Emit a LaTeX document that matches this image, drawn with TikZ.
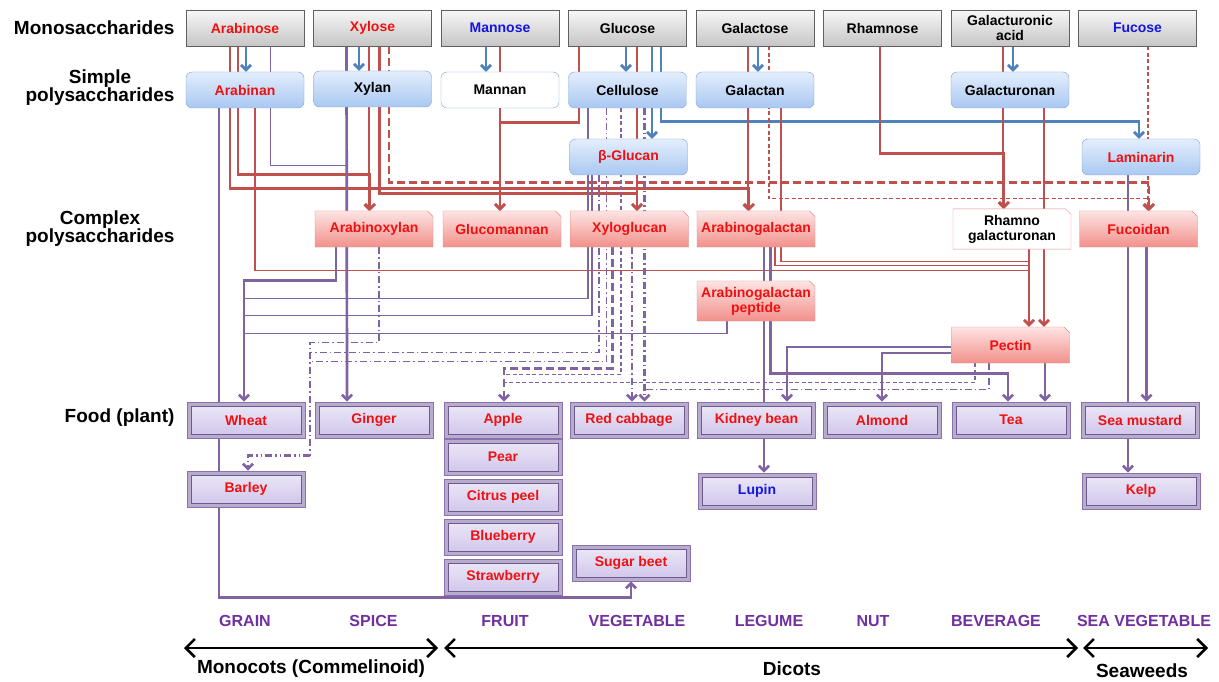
\documentclass[tikz,border=0pt]{standalone}
\usepackage{fontspec}
\setmainfont{Liberation Sans}
\usetikzlibrary{shapes.misc, arrows.meta, positioning, calc}
\definecolor{lineblue}{HTML}{4F81BD}
\definecolor{linered}{HTML}{C0504D}
\definecolor{linepurple}{HTML}{8064A2}
\definecolor{catpurple}{HTML}{7030A0}
\definecolor{txtred}{HTML}{EE1111}
\definecolor{txtblue}{HTML}{1515E0}
\definecolor{simpletop}{HTML}{E3EEFC}
\definecolor{simplebot}{HTML}{A9C8F2}
\definecolor{simpleedge}{HTML}{7EA1D0}
\definecolor{complextop}{HTML}{FDE4E3}
\definecolor{complexbot}{HTML}{F2908B}
\definecolor{complexedge}{HTML}{DD8E8B}
\definecolor{foodtop}{HTML}{EEEAF8}
\definecolor{foodbot}{HTML}{CEC3EA}
\definecolor{foodedge}{HTML}{8873AE}
\pgfdeclarelayer{background}
\pgfsetlayers{background,main}

\tikzset{
  box/.style={minimum width=118pt, minimum height=36pt, inner sep=2pt, align=center,
    font=\fontsize{14}{15}\selectfont\bfseries},
  monobox/.style={box, draw=gray!75!black, top color=gray!6, bottom color=gray!45},
  simplebox/.style={box, rounded corners=6pt, draw=simpleedge, top color=simpletop, bottom color=simplebot},
  complexbox/.style={box, inner xsep=0pt, chamfered rectangle, chamfered rectangle corners=north east,
    chamfered rectangle xsep=1.5pt, chamfered rectangle ysep=4pt, draw=complexedge,
    top color=complextop, bottom color=complexbot, text=txtred},
  foodbox/.style={box, draw=foodedge, line width=0.8pt, fill=foodedge!60, text=txtred,
    path picture={\shade[top color=foodtop, bottom color=foodbot, draw=foodedge!80!black, line width=0.5pt]
      ([shift={(4pt,4pt)}]path picture bounding box.south west) rectangle
      ([shift={(-4pt,-4pt)}]path picture bounding box.north east);}},
  rowlabel/.style={anchor=east, align=center, font=\fontsize{19}{18}\selectfont\bfseries},
  catlabel/.style={text=catpurple, font=\fontsize{16}{18}\selectfont\bfseries},
  grouplabel/.style={font=\fontsize{19}{21}\selectfont\bfseries},
  arr/.style={-{Straight Barb[length=5pt,width=10pt]}},
  bluethick/.style={draw=lineblue, line width=2.7pt},
  redthick/.style={draw=linered, line width=2.7pt},
  redthin/.style={draw=linered, line width=1.2pt},
  purplethick/.style={draw=linepurple, line width=2.7pt},
  purplethin/.style={draw=linepurple, line width=1.2pt},
  dashthick/.style={dash pattern=on 8pt off 4pt},
  dashthin/.style={dash pattern=on 4pt off 2.5pt},
  dashdot/.style={dash pattern=on 7pt off 3pt on 1.5pt off 3pt},
  dashdotdot/.style={dash pattern=on 7pt off 3pt on 1.5pt off 3pt on 1.5pt off 3pt},
  grouparrow/.style={line width=2.6pt, {Straight Barb[length=9pt,width=18pt]}-{Straight Barb[length=9pt,width=18pt]}}
}

\begin{document}
\begin{tikzpicture}[x=1pt, y=-1pt]
  \useasboundingbox (0,0) rectangle (1219,682);

  % row labels
  \node[rowlabel] (monolabel) at (178,28) {Monosaccharides};
  \node[rowlabel] (simplelabel) at (178,88) {Simple\\polysaccharides};
  \node[rowlabel] (complexlabel) at (178,229) {Complex\\polysaccharides};
  \node[rowlabel] (foodlabel) at (178,418) {Food (plant)};

  % monosaccharides
  \node[monobox, text=txtred] (arabinose) at (245,28) {Arabinose};
  \node[monobox, text=txtred] (xylose) at (372.5,28) {Xylose};
  \node[monobox, text=txtblue] (mannose) at (500,28) {Mannose};
  \node[monobox] (glucose) at (627.5,28) {Glucose};
  \node[monobox] (galactose) at (755,28) {Galactose};
  \node[monobox] (rhamnose) at (882.5,28) {Rhamnose};
  \node[monobox] (galacturonic) at (1010,28) {Galacturonic\\acid};
  \node[monobox, text=txtblue] (fucose) at (1137.5,28) {Fucose};

  % simple polysaccharides
  \node[simplebox, text=txtred] (arabinan) at (245,90) {Arabinan};
  \node[simplebox] (xylan) at (372.5,89) {Xylan};
  \node[simplebox, top color=white, bottom color=white] (mannan) at (500,90) {Mannan};
  \node[simplebox] (cellulose) at (627.5,90) {Cellulose};
  \node[simplebox] (galactan) at (755,90) {Galactan};
  \node[simplebox] (galacturonan) at (1010,90) {Galacturonan};
  \node[simplebox, text=txtred] (bglucan) at (628.5,157) {β-Glucan};
  \node[simplebox, text=txtred] (laminarin) at (1141,157) {Laminarin};

  % complex polysaccharides
  \node[complexbox] (arabinoxylan) at (374,229) {Arabinoxylan};
  \node[complexbox] (glucomannan) at (502,229) {Glucomannan};
  \node[complexbox] (xyloglucan) at (629.5,229) {Xyloglucan};
  \node[complexbox] (arabinogalactan) at (756,229) {Arabinogalactan};
  \node[complexbox, top color=white, bottom color=white, text=black] (rhamnogal) at (1012,229) {Rhamno\\galacturonan};
  \node[complexbox] (fucoidan) at (1138.5,229) {Fucoidan};
  \node[complexbox] (agp) at (756,301) {Arabinogalactan\\peptide};
  \node[complexbox] (pectin) at (1010.5,345) {Pectin};

  % food
  \node[foodbox] (wheat) at (246,420) {Wheat};
  \node[foodbox] (ginger) at (374,420) {Ginger};
  \node[foodbox] (apple) at (503,420) {Apple};
  \node[foodbox] (redcabbage) at (629,420) {Red cabbage};
  \node[foodbox] (kidneybean) at (756.5,420) {Kidney bean};
  \node[foodbox] (almond) at (882,420) {Almond};
  \node[foodbox] (tea) at (1011,420) {Tea};
  \node[foodbox] (seamustard) at (1140,420) {Sea mustard};
  \node[foodbox] (barley) at (246,489) {Barley};
  \node[foodbox] (pear) at (503,457) {Pear};
  \node[foodbox] (citrus) at (503,497) {Citrus peel};
  \node[foodbox] (blueberry) at (503,537) {Blueberry};
  \node[foodbox] (strawberry) at (503,577) {Strawberry};
  \node[foodbox] (sugarbeet) at (631,563) {Sugar beet};
  \node[foodbox, text=txtblue] (lupin) at (757,491) {Lupin};
  \node[foodbox] (kelp) at (1141,491) {Kelp};

  % categories
  \node[catlabel] (grain) at (245,621) {GRAIN};
  \node[catlabel] (spice) at (373.5,621) {SPICE};
  \node[catlabel] (fruit) at (505,621) {FRUIT};
  \node[catlabel] (vegetable) at (637,621) {VEGETABLE};
  \node[catlabel] (legume) at (769,621) {LEGUME};
  \node[catlabel] (nut) at (873,621) {NUT};
  \node[catlabel] (beverage) at (996,621) {BEVERAGE};
  \node[catlabel] (seaveg) at (1144,621) {SEA VEGETABLE};

  \coordinate (monoL) at (184,648);
  \coordinate (monoR) at (438,648);
  \coordinate (dicotL) at (444,648);
  \coordinate (dicotR) at (1078,648);
  \coordinate (seaL) at (1083,648);
  \coordinate (seaR) at (1208,648);
  \draw[grouparrow] (monoL) -- (monoR);
  \draw[grouparrow] (dicotL) -- (dicotR);
  \draw[grouparrow] (seaL) -- (seaR);
  \node[grouplabel] (monocots) at (311,669) {Monocots (Commelinoid)};
  \node[grouplabel] (dicots) at (792,669) {Dicots};
  \node[grouplabel] (seaweeds) at (1142,671) {Seaweeds};

  \begin{pgfonlayer}{background}
    \fill[white] (0,0) rectangle (1219,682);
    % blue
    \draw[bluethick, arr] ([xshift=1pt]arabinose.south) -- ([xshift=1pt]arabinan.north);
    \draw[bluethick, arr] ([xshift=-13.5pt]xylose.south) -- ([xshift=-13.5pt]xylan.north);
    \draw[bluethick, arr] ([xshift=-14pt]mannose.south) -- ([xshift=-14pt]mannan.north);
    \draw[bluethick, arr] ([xshift=-1.5pt]glucose.south) -- ([xshift=-1.5pt]cellulose.north);
    \draw[bluethick, arr] ([xshift=24.5pt]glucose.south) -- ([xshift=23.5pt]bglucan.north);
    \draw[bluethick, arr] ([xshift=33.5pt]glucose.south) |- ([xshift=-2pt,yshift=17pt]laminarin.north) -- ([xshift=-2pt]laminarin.north);
    \draw[bluethick, arr] ([xshift=3pt]galactose.south) -- ([xshift=3pt]galactan.north);
    \draw[bluethick, arr] ([xshift=3pt]galacturonic.south) -- ([xshift=3pt]galacturonan.north);
    % red
    \draw[redthick, arr] ([xshift=-15pt]arabinose.south) |- ([xshift=-7pt,yshift=22pt]arabinogalactan.north) -- ([xshift=-7pt]arabinogalactan.north);
    \draw[redthick, arr] ([xshift=-7pt]arabinose.south) |- ([xshift=-4pt,yshift=36pt]arabinoxylan.north) -- ([xshift=-4pt]arabinoxylan.north);
    \draw[redthin] ([xshift=10pt]arabinan.south) |- ([xshift=17pt,yshift=-21pt]rhamnogal.south);
    \draw[redthin, arr] ([xshift=-3.5pt]xylose.south) -- ([xshift=-5pt]arabinoxylan.north);
    \draw[redthick, arr] ([xshift=7pt]xylose.south) |- ([xshift=7.5pt,yshift=17pt]xyloglucan.north) -- ([xshift=7.5pt]xyloglucan.north);
    \draw[redthick, dashthick, arr] ([xshift=16.5pt]xylose.south) |- ([xshift=10.5pt,yshift=28.5pt]fucoidan.north) -- ([xshift=10.5pt]fucoidan.north);
    \draw[redthin, arr] (mannose.south) -- ([xshift=-2pt]glucomannan.north);
    \draw[redthick, arr] ([xshift=-48.5pt]glucose.south) |- ([xshift=-2pt,yshift=88pt]glucomannan.north) -- ([xshift=-2pt]glucomannan.north);
    \draw[redthin, arr] ([xshift=9.5pt]glucose.south) -- ([xshift=7.5pt]xyloglucan.north);
    \draw[redthin, arr] ([xshift=-7pt]galactose.south) -- ([xshift=-8pt]arabinogalactan.north);
    \draw[redthin, dashthin, arr] ([xshift=14pt]galactose.south) |- ([xshift=10.5pt,yshift=12pt]fucoidan.north) -- ([xshift=10.5pt]fucoidan.north);
    \draw[redthin] ([xshift=26pt]galactan.south) |- ([xshift=17pt,yshift=-12pt]rhamnogal.south);
    \draw[redthin] ([xshift=19pt]arabinogalactan.south) |- ([xshift=17pt,yshift=-16pt]rhamnogal.south);
    \draw[redthick, arr] ([xshift=-2.5pt]rhamnose.south) |- ([xshift=-8pt,yshift=55pt]rhamnogal.north) -- ([xshift=-8pt]rhamnogal.north);
    \draw[redthin, arr] ([xshift=-7pt]galacturonic.south) -- ([xshift=-9pt]rhamnogal.north);
    \draw[redthick, arr] ([xshift=34pt]galacturonan.south) -- ([xshift=33.5pt]pectin.north);
    \draw[redthick, arr] ([xshift=17pt]rhamnogal.south) -- ([xshift=18.5pt]pectin.north);
    \draw[redthin, dashthin, arr] ([xshift=10.5pt]fucose.south) -- ([xshift=9.5pt]fucoidan.north);
    % purple
    \draw[purplethick, arr] ([xshift=-26pt]arabinan.south) |- ([yshift=-16pt]sugarbeet.south) -- (sugarbeet.south);
    \draw[purplethin] ([xshift=25.5pt]arabinose.south) |- ([xshift=-26pt,yshift=-58.5pt]xylan.south);
    \draw[purplethick, arr] ([xshift=-26pt]xylose.south) -- ([xshift=-27pt]ginger.north);
    \draw[purplethick, arr] ([xshift=-38pt]arabinoxylan.south) |- ([xshift=-2pt,yshift=121pt]wheat.north) -- ([xshift=-2pt]wheat.north);
    \draw[purplethin] ([xshift=-39.5pt]cellulose.south) |- ([xshift=-2pt,yshift=103pt]wheat.north);
    \draw[purplethin] ([xshift=-36.5pt]bglucan.south) |- ([xshift=-2pt,yshift=86pt]wheat.north);
    \draw[purplethin] ([xshift=-29pt]agp.south) |- ([xshift=-2pt,yshift=68pt]wheat.north);
    \draw[purplethin, dashdot] ([xshift=5pt]arabinoxylan.south) |- ([xshift=64pt,yshift=128pt]barley.north) -- ([xshift=64pt,yshift=15pt]barley.north);
    \draw[purplethick, dashdotdot, arr] ([xshift=64pt,yshift=15pt]barley.north) -- ([xshift=2pt,yshift=15pt]barley.north) -- ([xshift=2pt]barley.north);
    \draw[purplethin, dashdot] ([xshift=-29.5pt]bglucan.south) |- ([xshift=64pt,yshift=118pt]barley.north);
    \draw[purplethin, dashdot] ([xshift=-21pt]cellulose.south) |- ([xshift=64pt,yshift=109pt]barley.north);
    \draw[purplethick, dashthick, arr] ([xshift=-17pt]xyloglucan.south) |- ([xshift=1pt,yshift=33pt]apple.north) -- ([xshift=1pt]apple.north);
    \draw[purplethin, dashthin] ([xshift=-6.5pt]cellulose.south) |- ([xshift=1pt,yshift=27pt]apple.north);
    \draw[purplethin, dashthin] ([xshift=-35.5pt]pectin.south) |- ([xshift=1pt,yshift=19pt]apple.north);
    \draw[purplethick, dashdot, arr] ([xshift=2.5pt]xyloglucan.south) -- ([xshift=3pt]redcabbage.north);
    \draw[purplethick, dashdot, arr] ([xshift=17pt]cellulose.south) -- ([xshift=15.5pt]redcabbage.north);
    \draw[purplethin, dashdot] ([xshift=-21.5pt]pectin.south) |- ([xshift=15.5pt,yshift=12pt]redcabbage.north);
    \draw[purplethick, arr] ([xshift=8pt]arabinogalactan.south) -- ([xshift=7pt]lupin.north);
    \draw[purplethick, arr] ([xshift=14.5pt]arabinogalactan.south) |- ([xshift=-3pt,yshift=28pt]tea.north) -- ([xshift=-3pt]tea.north);
    \draw[purplethick, arr] ([yshift=-2pt]pectin.west) -| ([xshift=30.5pt]kidneybean.north);
    \draw[purplethick, arr] ([yshift=-8pt]pectin.west) -| (almond.north);
    \draw[purplethick, arr] ([xshift=34.5pt]pectin.south) -- ([xshift=34pt]tea.north);
    \draw[purplethick, arr] ([xshift=-13pt]laminarin.south) -- ([xshift=-13pt]kelp.north);
    \draw[purplethick, arr] ([xshift=8pt]fucoidan.south) -- ([xshift=6.5pt]seamustard.north);
  \end{pgfonlayer}
\end{tikzpicture}
\end{document}
